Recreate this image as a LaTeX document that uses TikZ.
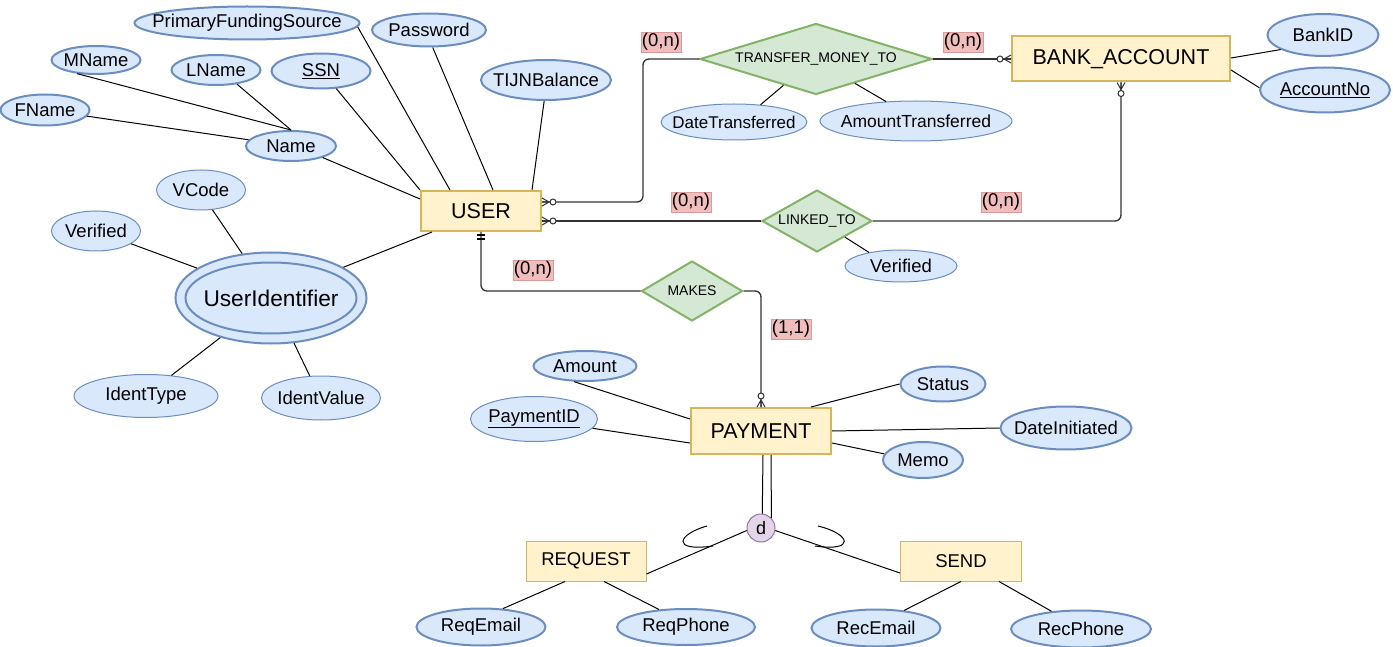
\documentclass[tikz,border=0pt]{standalone}
\usepackage{fontspec}
\setmainfont{Liberation Sans}
\usetikzlibrary{shapes.geometric}
\definecolor{attrfill}{HTML}{DAE8FC}
\definecolor{attrline}{HTML}{6C8EBF}
\definecolor{entfill}{HTML}{FFF2CC}
\definecolor{entline}{HTML}{D6B656}
\definecolor{relfill}{HTML}{D5E8D4}
\definecolor{relline}{HTML}{82B366}
\definecolor{dfill}{HTML}{E1D5E7}
\definecolor{dline}{HTML}{9673A6}
\definecolor{cardfill}{HTML}{F2BDBD}
\definecolor{cardline}{HTML}{D99A9A}
\definecolor{relconn}{HTML}{333333}
\newcommand\setfs[1]{\fontsize{#1}{#1}\selectfont}
\tikzset{
  zerow/.style={execute at begin node={\setbox0=\hbox\bgroup},
                execute at end node={\egroup\hbox to 0pt{\hss\box0\hss}}},
  attr/.style={ellipse, draw=attrline, fill=attrfill, line width=2pt, inner sep=0pt,
               zerow, font=\setfs{18.5}},
  attrthin/.style={attr, line width=1pt},
  ent/.style={rectangle, draw=entline, fill=entfill, line width=2pt, inner sep=0pt,
              font=\setfs{21.5}},
  subent/.style={ent, line width=1pt, font=\setfs{18.5}},
  rel/.style={diamond, draw=relline, fill=relfill, line width=2pt, inner sep=0pt,
              zerow, font=\setfs{14}},
  card/.style={rectangle, fill=cardfill, draw=cardline, line width=0.5pt, inner xsep=1pt,
               inner ysep=0pt, minimum height=20pt, font=\setfs{18.5}},
  aline/.style={draw=black, line width=1pt},
  rline/.style={draw=relconn, line width=1.3pt, rounded corners=6pt},
  zmR/.pic={\draw[relconn, line width=1pt] (0,-4)--(7,0)--(0,4) (0,0)--(7,0);
            \draw[relconn, line width=1pt, fill=white] (11,0) circle[radius=3pt];},
  zmL/.pic={\draw[relconn, line width=1pt] (0,-4)--(-7,0)--(0,4) (0,0)--(-7,0);
            \draw[relconn, line width=1pt, fill=white] (-11,0) circle[radius=3pt];},
  zmU/.pic={\draw[relconn, line width=1pt] (-4,0)--(0,-7)--(4,0) (0,0)--(0,-7);
            \draw[relconn, line width=1pt, fill=white] (0,-11) circle[radius=3pt];},
  zmD/.pic={\draw[relconn, line width=1pt] (-4,0)--(0,7)--(4,0) (0,0)--(0,7);
            \draw[relconn, line width=1pt, fill=white] (0,11) circle[radius=3pt];},
  oneD/.pic={\draw[black, line width=1.2pt] (-4,3)--(4,3) (-4,7)--(4,7);}
}
\begin{document}
\begin{tikzpicture}[x=1pt,y=-1pt]
\useasboundingbox[fill=white] (0,0) rectangle (1393,647);

% ---- USER side attributes
\node[attr, minimum width=225pt, minimum height=33pt] (PFS) at (247,23) {PrimaryFundingSource};
\node[attr, minimum width=114pt, minimum height=33pt] (Password) at (429,30) {Password};
\node[attr, minimum width=89pt, minimum height=28pt] (MName) at (96,60) {MName};
\node[attr, minimum width=89pt, minimum height=30pt] (LName) at (216,70) {LName};
\node[attr, minimum width=99pt, minimum height=35pt] (SSN) at (321,71) {\underline{SSN}};
\node[attr, minimum width=130pt, minimum height=40pt] (TIJN) at (546,80) {TIJNBalance};
\node[attr, minimum width=89pt, minimum height=31pt] (FName) at (45,110) {FName};
\node[attr, minimum width=90pt, minimum height=30pt] (Name) at (291,146) {Name};
\node[attrthin, minimum width=89pt, minimum height=40pt] (VCode) at (201,190) {VCode};
\node[attrthin, minimum width=89pt, minimum height=40pt] (VerL) at (96,231) {Verified};
\node[attr, minimum width=191pt, minimum height=91pt, font=\setfs{22.7}] (UID) at (271,298) {};
\draw[attrline, line width=2pt] (UID.center) ellipse[x radius=85.5pt, y radius=35.5pt];
\node[font=\setfs{22.7}, inner sep=0pt] (UIDtext) at (UID.center) {UserIdentifier};
\node[attrthin, minimum width=144pt, minimum height=43pt] (IdType) at (146,396) {IdentType};
\node[attrthin, minimum width=119pt, minimum height=44pt] (IdVal) at (321,398) {IdentValue};

\node[ent, minimum width=120pt, minimum height=40pt] (USER) at (481,211) {USER};

% ---- relationships
\node[rel, minimum width=232pt, minimum height=71pt] (TMT) at (816,59) {TRANSFER\_MONEY\_TO};
\node[attrthin, minimum width=146pt, minimum height=36pt, font=\setfs{17}] (DT) at (734,122) {DateTransferred};
\node[attrthin, minimum width=192pt, minimum height=40pt, font=\setfs{17.5}] (AT) at (916,121) {AmountTransferred};
\node[ent, minimum width=218pt, minimum height=45pt] (BANK) at (1121,59) {BANK\_ACCOUNT};
\node[attr, minimum width=111pt, minimum height=42pt] (BankID) at (1323,35) {BankID};
\node[attr, minimum width=130pt, minimum height=45pt] (AccNo) at (1325,90) {\underline{AccountNo}};
\node[rel, minimum width=110pt, minimum height=62pt] (LINK) at (817,221) {LINKED\_TO};
\node[attrthin, minimum width=112pt, minimum height=32pt] (VerR) at (901,266) {Verified};
\node[rel, minimum width=101pt, minimum height=60pt] (MAKES) at (692,291) {MAKES};

% ---- payment
\node[ent, minimum width=140pt, minimum height=46pt] (PAY) at (761,431) {PAYMENT};
\node[attr, minimum width=103pt, minimum height=30pt] (Amount) at (585,366) {Amount};
\node[attrthin, minimum width=127pt, minimum height=45pt] (PID) at (534,419) {\underline{PaymentID}};
\node[attr, minimum width=85pt, minimum height=35pt] (Status) at (943,384) {Status};
\node[attr, minimum width=131pt, minimum height=43pt] (DI) at (1066,428) {DateInitiated};
\node[attr, minimum width=80pt, minimum height=36pt] (Memo) at (923,460) {Memo};
\node[circle, draw=dline, fill=dfill, line width=1pt, minimum size=28pt, inner sep=0pt,
      font=\setfs{18}] (d) at (761,528) {d};
\node[subent, minimum width=120pt, minimum height=40pt] (REQ) at (586,561) {REQUEST};
\node[subent, minimum width=121pt, minimum height=40pt] (SEND) at (961,561) {SEND};
\node[attr, minimum width=129pt, minimum height=37pt] (ReqEmail) at (481,627) {ReqEmail};
\node[attr, minimum width=138pt, minimum height=36pt] (ReqPhone) at (686,627) {ReqPhone};
\node[attr, minimum width=129pt, minimum height=37pt] (RecEmail) at (876,628) {RecEmail};
\node[attr, minimum width=140pt, minimum height=37pt] (RecPhone) at (1081,629) {RecPhone};

% ---- cardinality labels
\node[card] (c1) at (661,42) {(0,n)};
\node[card] (c2) at (963,42) {(0,n)};
\node[card] (c3) at (691,202) {(0,n)};
\node[card] (c4) at (1001,202) {(0,n)};
\node[card] (c5) at (533,270) {(0,n)};
\node[card] (c6) at (791,329) {(1,1)};

% ---- attribute lines
\draw[aline] (FName) -- (Name);
\draw[aline] (MName.216) -- (Name.north);
\draw[aline] (LName.326) -- (Name.north);
\draw[aline] (Name.340) -- ([yshift=12pt]USER.west);
\draw[aline] (SSN.311) -- (USER.north west);
\draw[aline] (PFS.358) -- ([xshift=30pt]USER.north west);
\draw[aline] (Password.282) -- ([xshift=12pt]USER.north);
\draw[aline] (TIJN.265) -- ([xshift=51pt]USER.north);
\draw[aline] (UID.23) -- ([xshift=12pt]USER.south west);
\draw[aline] (VCode.300) -- (UID.123);
\draw[aline] (VerL.340) -- (UID.158);
\draw[aline] (IdType.39) -- (UID.218);
\draw[aline] (IdVal.117) -- (UID.297);
\draw[aline] (DT.33) -- (TMT.219);
\draw[aline] (AT.147) -- (TMT.328);
\draw[aline] (BankID.199) -- ([yshift=1pt]BANK.east);
\draw[aline] (AccNo.178) -- ([yshift=-11pt]BANK.east);
\draw[aline] (VerR.157) -- (LINK.330);
\draw[aline] (Amount.235) -- ([yshift=12pt]PAY.west);
\draw[aline] (PID.351) -- ([yshift=-12pt]PAY.west);
\draw[aline] (Status.west) -- ([xshift=50pt]PAY.north);
\draw[aline] (DI.west) -- (PAY.east);
\draw[aline] (Memo.171) -- ([yshift=-12pt]PAY.east);
\draw[aline] ([xshift=-21pt]REQ.south) -- (ReqEmail.40);
\draw[aline] ([xshift=18pt]REQ.south) -- (ReqPhone.147);
\draw[aline] (SEND.south) -- (RecEmail.32);
\draw[aline] ([xshift=38pt]SEND.south) -- (RecPhone.149);

% ---- specialization
\draw[aline] ([xshift=2pt]PAY.south) -- (d.85);
\draw[aline] ([xshift=10pt]PAY.south) -- (d.44);
\draw[aline] (d.190) -- ([yshift=-13pt]REQ.east);
\draw[aline] (d.350) -- ([yshift=-12pt]SEND.west);
\draw[aline] (707,526) .. controls (678,534) and (670,552) .. (713,546);
\draw[aline] (818,526) .. controls (851,534) and (856,552) .. (815,546);

% ---- relationship connectors
\draw[rline] ([yshift=9pt]USER.east) -- ++(101,0) |- (TMT.west);
\draw[rline] (TMT.east) -- (BANK.west);
\draw[rline] ([yshift=-10pt]USER.east) -- (LINK.west);
\draw[rline] (LINK.east) -| (BANK.south);
\draw[rline] (USER.south) |- (MAKES.west);
\draw[rline] (MAKES.east) -| (PAY.north);

% ---- markers
\pic at ([yshift=9pt]USER.east) {zmR};
\pic at ([yshift=-10pt]USER.east) {zmR};
\pic at (BANK.west) {zmL};
\pic at (BANK.south) {zmD};
\pic at (PAY.north) {zmU};
\pic at (USER.south) {oneD};
\end{tikzpicture}
\end{document}
